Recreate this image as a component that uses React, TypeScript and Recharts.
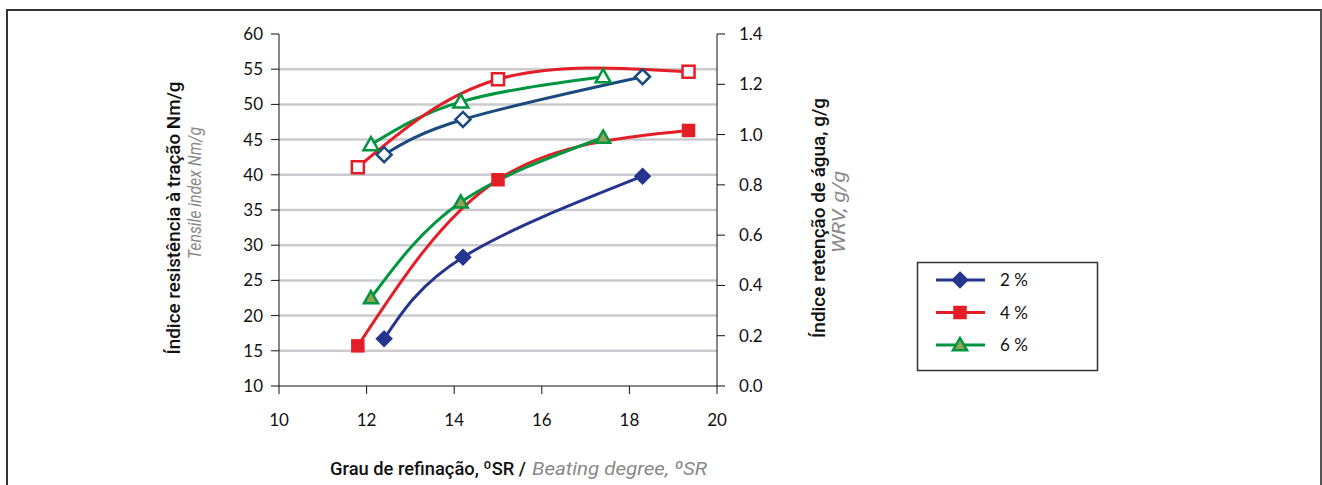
import { CartesianGrid, Line, LineChart, XAxis, YAxis } from 'recharts';

// beating degree (ºSR) of each sample
const sr2 = [12.4, 14.2, 18.3];
const sr4 = [11.8, 15.0, 19.35];
const sr6 = [12.1, 14.15, 17.4];

// tensile index, Nm/g (left axis)
const tensile2 = [16.7, 28.3, 39.8];
const tensile4 = [15.7, 39.3, 46.3];
const tensile6 = [22.5, 36.1, 45.3];

// water retention value, g/g (right axis)
const wrv2 = [0.92, 1.06, 1.23];
const wrv4 = [0.87, 1.22, 1.25];
const wrv6 = [0.96, 1.13, 1.23];

const xTicks = [10, 12, 14, 16, 18, 20];
const leftTicks = [10, 15, 20, 25, 30, 35, 40, 45, 50, 55, 60];
const rightTicks = [0, 0.2, 0.4, 0.6, 0.8, 1.0, 1.2, 1.4];
const gridValues = [15, 20, 25, 30, 35, 40, 45, 50, 55];

const legendItems = ['2 %', '4 %', '6 %'];

const BLUE = '#25358f';
const BLUE_OPEN = '#1a4a7e';
const RED = '#e31e26';
const GREEN = '#00963f';
const OLIVE = '#93a257';

const toPoints = (xs: number[], ys: number[]) => xs.map((x, i) => ({ x, y: ys[i] }));

const tickFont = { fill: '#111', fontSize: 17, fontFamily: 'Lato, "Open Sans", sans-serif' };
const titleFont = 'Roboto, "Liberation Sans", sans-serif';

type DotProps = { cx?: number; cy?: number; index?: number };

const diamond = (stroke: string, fill: string, r: number) => (p: DotProps) => {
  const { cx = 0, cy = 0, index } = p;
  return (
    <path
      key={index}
      d={`M${cx},${cy - r}L${cx + r},${cy}L${cx},${cy + r}L${cx - r},${cy}Z`}
      fill={fill}
      stroke={stroke}
      strokeWidth={2.5}
      strokeLinejoin="miter"
    />
  );
};

const square = (stroke: string, fill: string, r: number) => (p: DotProps) => {
  const { cx = 0, cy = 0, index } = p;
  return (
    <rect key={index} x={cx - r} y={cy - r} width={2 * r} height={2 * r} fill={fill} stroke={stroke} strokeWidth={2.5} />
  );
};

const triangle = (stroke: string, fill: string, r: number) => (p: DotProps) => {
  const { cx = 0, cy = 0, index } = p;
  return (
    <path
      key={index}
      d={`M${cx},${cy - r}L${cx + r},${cy + r * 0.75}L${cx - r},${cy + r * 0.75}Z`}
      fill={fill}
      stroke={stroke}
      strokeWidth={2.5}
      strokeLinejoin="miter"
    />
  );
};

const legendMarkers = [
  { color: BLUE, dot: diamond(BLUE, BLUE, 7) },
  { color: RED, dot: square(RED, RED, 5.5) },
  { color: GREEN, dot: triangle(GREEN, OLIVE, 7) },
];

// rotated axis title squeezed to the condensed width of the original
const VTitle = ({ x, y, len, color, italic, children }: { x: number; y: number; len: number; color: string; italic?: boolean; children: string }) => (
  <text
    transform={`translate(${x},${y}) rotate(-90)`}
    textAnchor="middle"
    fill={color}
    fontStyle={italic ? 'italic' : 'normal'}
    fontWeight={italic ? 400 : 500}
    textLength={len}
    lengthAdjust="spacingAndGlyphs"
  >
    {children}
  </text>
);

export default function App() {
  return (
    <div style={{ position: 'absolute', left: 0, top: 0, width: 1322, height: 485, background: '#fff', overflow: 'hidden' }}>
      <div
        style={{
          position: 'absolute',
          left: 6,
          top: 9,
          width: 1312,
          height: 490,
          borderTop: '2px solid #333',
          borderLeft: '2px solid #333',
          borderRight: '2px solid #555',
        }}
      />
      <LineChart width={1322} height={485} margin={{ top: 34, right: 0, left: 0, bottom: 0 }} style={{ position: 'absolute', left: 0, top: 0 }}>
        <CartesianGrid yAxisId="left" vertical={false} horizontalValues={gridValues} stroke="#cbcbcf" strokeWidth={2.5} />
        <XAxis
          type="number"
          dataKey="x"
          domain={[10, 20]}
          ticks={xTicks}
          height={99}
          tick={tickFont}
          tickSize={8}
          tickMargin={20}
          stroke="#111"
          allowDuplicatedCategory={false}
        />
        <YAxis
          yAxisId="left"
          domain={[10, 60]}
          ticks={leftTicks}
          width={279}
          tick={tickFont}
          tickSize={8}
          tickMargin={8}
          stroke="#111"
        />
        <YAxis
          yAxisId="right"
          orientation="right"
          domain={[0, 1.4]}
          ticks={rightTicks}
          width={605}
          tick={tickFont}
          tickSize={8}
          tickMargin={14}
          stroke="#111"
          tickFormatter={(v: number) => v.toFixed(1)}
        />
        <Line yAxisId="right" data={toPoints(sr2, wrv2)} dataKey="y" type="natural" stroke={BLUE_OPEN} strokeWidth={3} dot={diamond(BLUE_OPEN, '#fff', 7.5)} isAnimationActive={false} />
        <Line yAxisId="right" data={toPoints(sr6, wrv6)} dataKey="y" type="natural" stroke={GREEN} strokeWidth={3} dot={triangle(GREEN, '#fff', 7.5)} isAnimationActive={false} />
        <Line yAxisId="right" data={toPoints(sr4, wrv4)} dataKey="y" type="natural" stroke={RED} strokeWidth={3} dot={square(RED, '#fff', 6)} isAnimationActive={false} />
        <Line yAxisId="left" data={toPoints(sr2, tensile2)} dataKey="y" type="natural" stroke={BLUE} strokeWidth={3} dot={diamond(BLUE, BLUE, 7)} isAnimationActive={false} />
        <Line yAxisId="left" data={toPoints(sr4, tensile4)} dataKey="y" type="natural" stroke={RED} strokeWidth={3} dot={square(RED, RED, 5.5)} isAnimationActive={false} />
        <Line yAxisId="left" data={toPoints(sr6, tensile6)} dataKey="y" type="natural" stroke={GREEN} strokeWidth={3} dot={triangle(GREEN, OLIVE, 7)} isAnimationActive={false} />
      </LineChart>
      <svg width={1322} height={485} style={{ position: 'absolute', left: 0, top: 0, pointerEvents: 'none' }}>
        <g fontFamily={titleFont} fontSize={19}>
          <VTitle x={180} y={218} len={273} color="#111">
            Índice resistência à tração  Nm/g
          </VTitle>
          <VTitle x={201} y={193} len={132} color="#888" italic>
            Tensile index Nm/g
          </VTitle>
          <VTitle x={825} y={218} len={240} color="#111">
            Índice retenção de água, g/g
          </VTitle>
          <VTitle x={845} y={212} len={82} color="#888" italic>
            WRV, g/g
          </VTitle>
          <text x={330} y={475} fill="#111" fontWeight={500} textLength={196} lengthAdjust="spacingAndGlyphs">
            Grau de refinação, ºSR /
          </text>
          <text x={532} y={475} fill="#888" fontStyle="italic" textLength={175} lengthAdjust="spacingAndGlyphs">
            Beating degree, ºSR
          </text>
        </g>
        <rect x={917.5} y={262.5} width={180} height={108} fill="#fff" stroke="#333" strokeWidth={1.5} />
        {legendItems.map((name, i) => {
          const y = 280 + i * 32.5;
          const m = legendMarkers[i];
          return (
            <g key={name}>
              <line x1={936} x2={985} y1={y} y2={y} stroke={m.color} strokeWidth={3} />
              {m.dot({ cx: 960, cy: y, index: i })}
              <text x={1000} y={y + 6} fontFamily="Lato, sans-serif" fontSize={17} fill="#111">
                {name}
              </text>
            </g>
          );
        })}
      </svg>
    </div>
  );
}
